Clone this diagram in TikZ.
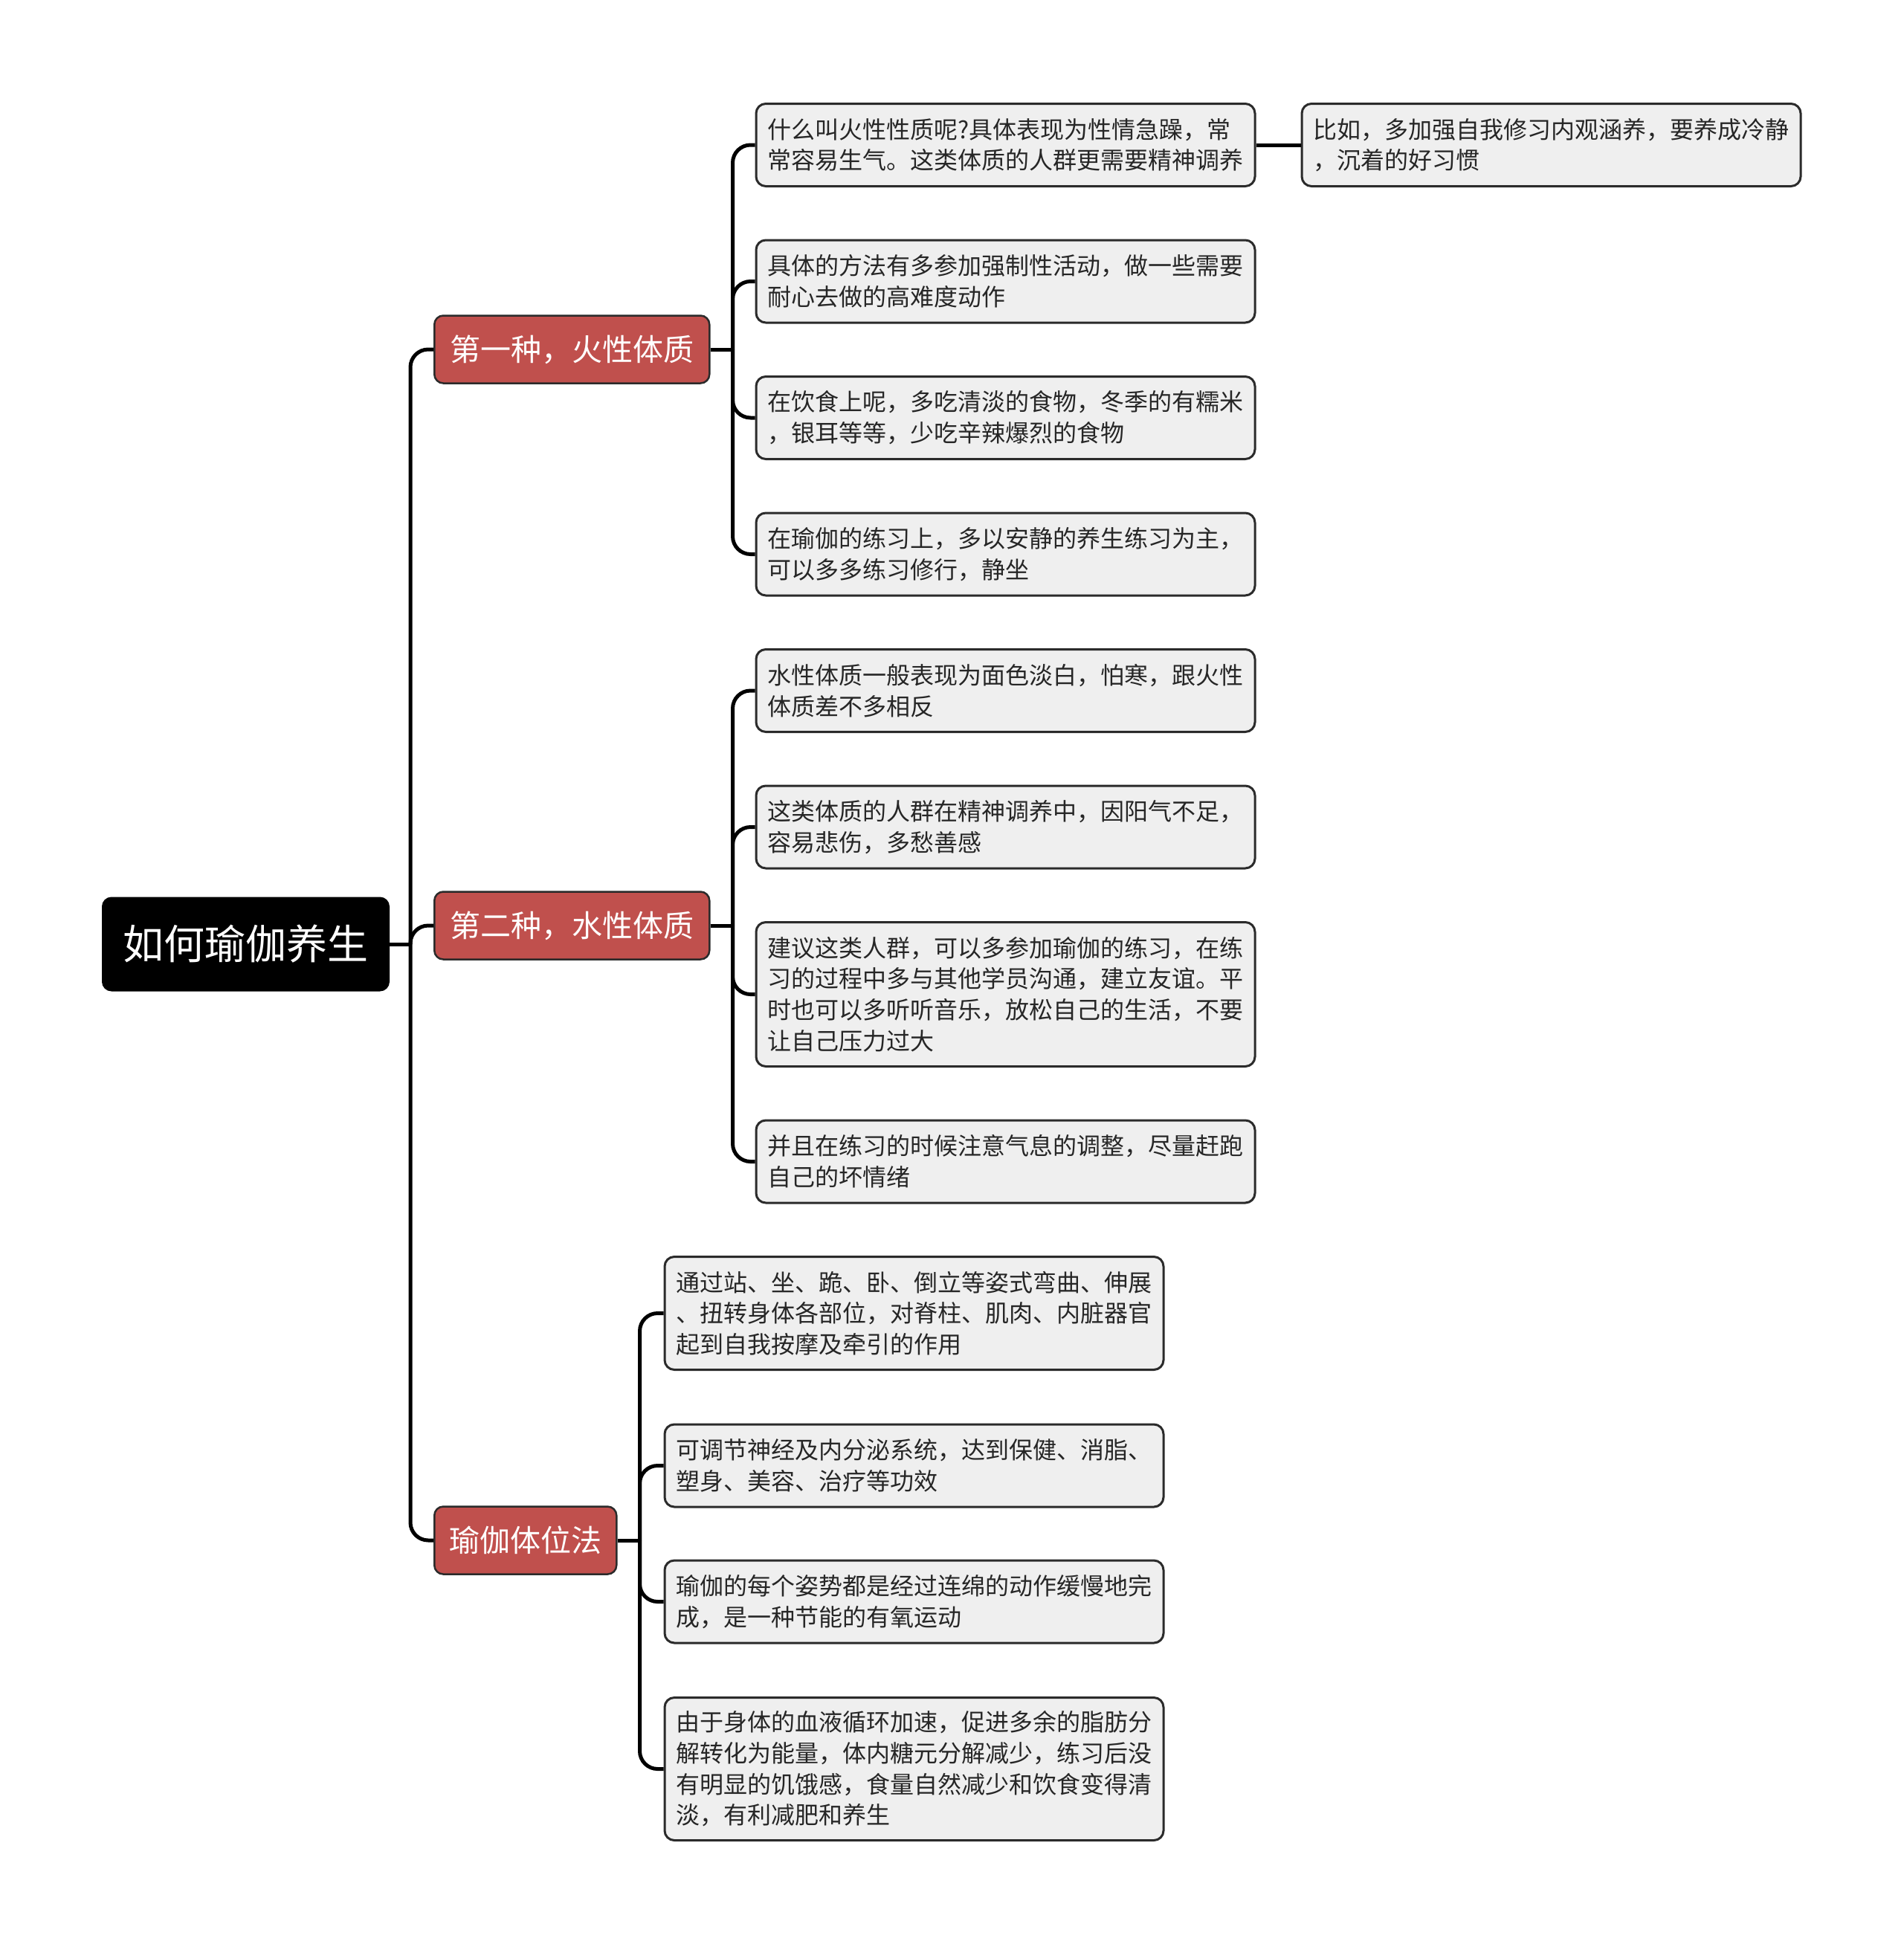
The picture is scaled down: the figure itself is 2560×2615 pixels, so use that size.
\documentclass[tikz,border=0pt]{standalone}
\usepackage{fontspec}
\setmainfont{Noto Sans CJK SC}
\usetikzlibrary{calc}
\definecolor{redfill}{HTML}{C0504D}
\definecolor{leaffill}{HTML}{EFEFEF}
\definecolor{edgecol}{HTML}{2B2B2B}
\begin{document}
\begin{tikzpicture}[x=1pt,y=-1pt,
  conn/.style={line width=5pt, draw=black, rounded corners=24pt},
  rootbox/.style={draw=black, fill=black, text=white, rounded corners=12pt, line width=2pt,
    minimum width=385pt, minimum height=125pt, inner sep=0pt, font=\fontsize{55}{66}\selectfont},
  mainbox/.style={draw=edgecol, fill=redfill, text=white, rounded corners=12pt, line width=2.5pt,
    minimum height=91pt, inner xsep=18pt, inner ysep=0pt, font=\fontsize{41}{50}\selectfont, anchor=west},
  leafbox/.style={draw=edgecol, fill=leaffill, text=black!85, rounded corners=13pt, line width=3pt,
    text width=640pt, inner xsep=15.5pt, inner ysep=0pt, align=left,
    font=\fontsize{32}{41.7}\selectfont, anchor=west, minimum height=111pt}
]
\useasboundingbox (0,0) rectangle (2560,2615);
\fill[white] (0,0) rectangle (2560,2615);

% root and main branches
\node[rootbox] (root) at (330.5,1270) {如何瑜伽养生};
\node[mainbox, minimum width=370pt] (r1) at (583,470) {第一种，火性体质};
\node[mainbox, minimum width=370pt] (r2) at (583,1245) {第二种，水性体质};
\node[mainbox, minimum width=245pt] (r3) at (583,2072) {瑜伽体位法};

% branch 1 leaves
\node[leafbox] (n1) at (1015.5,195) {什么叫火性性质呢?具体表现为性情急躁，常\\常容易生气。这类体质的人群更需要精神调养};
\node[leafbox] (k1) at (1749.5,195) {比如，多加强自我修习内观涵养，要养成冷静\\，沉着的好习惯};
\node[leafbox] (n2) at (1015.5,378.5) {具体的方法有多参加强制性活动，做一些需要\\耐心去做的高难度动作};
\node[leafbox] (n3) at (1015.5,562) {在饮食上呢，多吃清淡的食物，冬季的有糯米\\，银耳等等，少吃辛辣爆烈的食物};
\node[leafbox] (n4) at (1015.5,745.5) {在瑜伽的练习上，多以安静的养生练习为主，\\可以多多练习修行，静坐};

% branch 2 leaves
\node[leafbox] (m1) at (1015.5,929) {水性体质一般表现为面色淡白，怕寒，跟火性\\体质差不多相反};
\node[leafbox] (m2) at (1015.5,1112.5) {这类体质的人群在精神调养中，因阳气不足，\\容易悲伤，多愁善感};
\node[leafbox, minimum height=194pt] (m3) at (1015.5,1337.5) {建议这类人群，可以多参加瑜伽的练习，在练\\习的过程中多与其他学员沟通，建立友谊。平\\时也可以多听听音乐，放松自己的生活，不要\\让自己压力过大};
\node[leafbox] (m4) at (1015.5,1562.5) {并且在练习的时候注意气息的调整，尽量赶跑\\自己的坏情绪};

% branch 3 leaves
\node[leafbox, minimum height=152pt] (p1) at (892.5,1766.5) {通过站、坐、跪、卧、倒立等姿式弯曲、伸展\\、扭转身体各部位，对脊柱、肌肉、内脏器官\\起到自我按摩及牵引的作用};
\node[leafbox] (p2) at (892.5,1971.5) {可调节神经及内分泌系统，达到保健、消脂、\\塑身、美容、治疗等功效};
\node[leafbox] (p3) at (892.5,2154.5) {瑜伽的每个姿势都是经过连绵的动作缓慢地完\\成，是一种节能的有氧运动};
\node[leafbox, minimum height=192pt] (p4) at (892.5,2379.5) {由于身体的血液循环加速，促进多余的脂肪分\\解转化为能量，体内糖元分解减少，练习后没\\有明显的饥饿感，食量自然减少和饮食变得清\\淡，有利减肥和养生};

% connectors from root
\coordinate (t0) at ($(root.east)+(28,0)$);
\draw[conn] (root.east) -- (t0);
\draw[conn] (t0) |- (r1.west);
\draw[conn] (t0) |- (r2.west);
\draw[conn] (t0) |- (r3.west);

% branch 1
\coordinate (b1) at ($(r1.east)+(30,0)$);
\draw[conn] (r1.east) -- (b1);
\foreach \c in {n1,n2,n3,n4} \draw[conn] (b1) |- (\c.west);
\draw[conn] (n1.east) -- (k1.west);

% branch 2
\coordinate (b2) at ($(r2.east)+(30,0)$);
\draw[conn] (r2.east) -- (b2);
\foreach \c in {m1,m2,m3,m4} \draw[conn] (b2) |- (\c.west);

% branch 3
\coordinate (b3) at ($(r3.east)+(30,0)$);
\draw[conn] (r3.east) -- (b3);
\foreach \c in {p1,p2,p3,p4} \draw[conn] (b3) |- (\c.west);
\end{tikzpicture}
\end{document}
